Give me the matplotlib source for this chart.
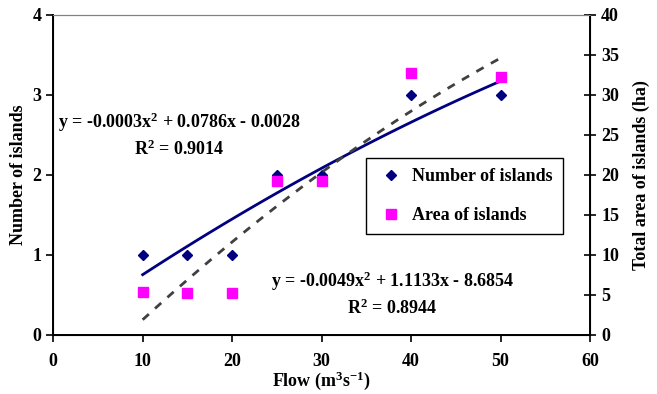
import numpy as np
import matplotlib
matplotlib.use("Agg")
import matplotlib.pyplot as plt

plt.rcParams['font.family'] = ['Liberation Serif', 'DejaVu Serif']
plt.rcParams['font.weight'] = 'bold'
plt.rcParams['mathtext.fontset'] = 'custom'
plt.rcParams['mathtext.rm'] = 'Liberation Serif:bold'
plt.rcParams['mathtext.bf'] = 'Liberation Serif:bold'
plt.rcParams['mathtext.it'] = 'Liberation Serif:italic:bold'

flow = [10, 15, 20, 25, 30, 40, 50]
n_islands = [1, 1, 1, 2, 2, 3, 3]
area_islands = [5.4, 5.3, 5.3, 19.3, 19.2, 32.7, 32.2]

eq_number = "y = -0.0003x$^{2}$ + 0.0786x - 0.0028\nR$^{2}$ = 0.9014"
eq_area = "y = -0.0049x$^{2}$ + 1.1133x - 8.6854\nR$^{2}$ = 0.8944"

fig, ax = plt.subplots(figsize=(6.57, 3.94), dpi=100)
fig.subplots_adjust(left=0.081, right=0.898, top=0.962, bottom=0.150)
ax2 = ax.twinx()

# second order trend lines, fitted to the points
xs = np.linspace(min(flow), max(flow), 100)
p1 = np.polyfit(flow, n_islands, 2)
p2 = np.polyfit(flow, area_islands, 2)
ax.plot(xs, np.polyval(p1, xs), color='#000080', lw=2, zorder=3)
ax2.plot(xs, np.polyval(p2, xs), color='#404040', lw=2, ls=(0, (3, 3)), zorder=3)

h1, = ax.plot(flow, n_islands, 'D', color='#000080', ms=5.5, ls='none', zorder=4)
h2, = ax2.plot(flow, area_islands, 's', color='#FF00FF', ms=7, ls='none', zorder=4)

ax.set_xlim(0, 60)
ax.set_ylim(0, 4)
ax2.set_ylim(0, 40)
ax.set_xticks(range(0, 61, 10))
ax.set_yticks(range(0, 5))
ax2.set_yticks(range(0, 41, 5))

for a in (ax, ax2):
    a.tick_params(labelsize=13, width=1.2, length=5, colors='black')
    for lbl in a.get_xticklabels() + a.get_yticklabels():
        lbl.set_fontweight('bold')
ax.tick_params(axis='x', pad=8)
ax2.tick_params(axis='y', direction='inout', length=9)

ax.spines['top'].set_color('#808080')
ax2.spines['top'].set_color('#808080')
for s in ('left', 'bottom'):
    ax.spines[s].set_linewidth(1.4)
ax2.spines['right'].set_linewidth(1.4)

ax.set_xlabel("Flow (m$^{3}$s$^{-1}$)", fontsize=13, fontweight='bold', labelpad=0)
ax.set_ylabel("Number of islands", fontsize=13, fontweight='bold')
ax2.set_ylabel("Total area of islands (ha)", fontsize=13, fontweight='bold', labelpad=10)

ax.text(14.1, 2.5, eq_number, fontsize=13, fontweight='bold', ha='center', va='center',
        multialignment='center', linespacing=1.35)
ax.text(37.9, 0.51, eq_area, fontsize=13, fontweight='bold', ha='center', va='center',
        multialignment='center', linespacing=1.35)

leg = ax2.legend([h1, h2], ["Number of islands", "Area of islands"],
                 loc='upper left', bbox_to_anchor=(0.583, 0.553), borderaxespad=0,
                 fancybox=False, edgecolor='black', framealpha=1,
                 prop={'size': 13, 'weight': 'bold'},
                 labelspacing=1.25, handlelength=1.6, handletextpad=0.4,
                 borderpad=0.55)
leg.get_frame().set_linewidth(1.0)

fig.savefig("out.png", dpi=100)
